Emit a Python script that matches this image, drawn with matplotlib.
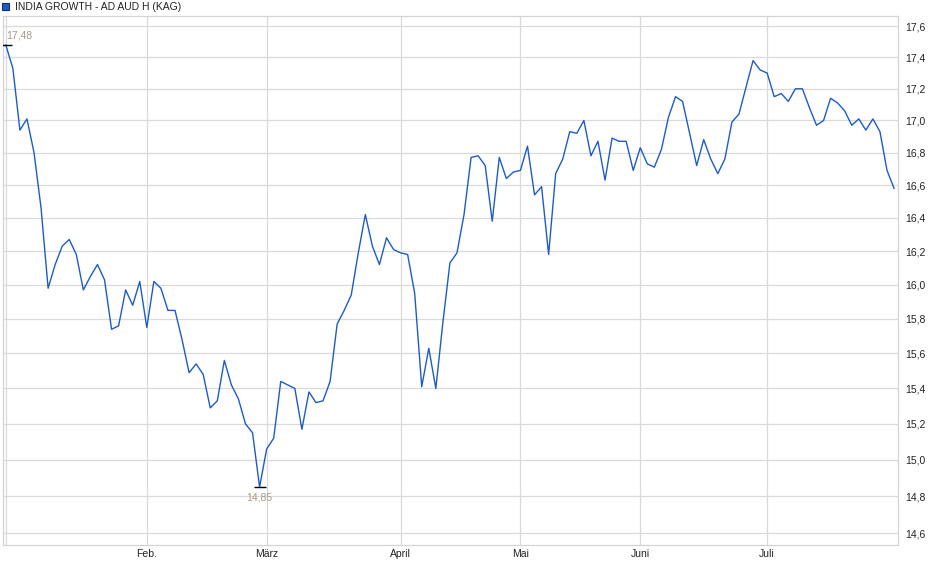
import numpy as np
import matplotlib
matplotlib.use('Agg')
import matplotlib.pyplot as plt
from matplotlib.ticker import FixedLocator, FixedFormatter, NullLocator

plt.rcParams['font.family'] = ['Liberation Sans', 'DejaVu Sans']
plt.rcParams['font.size'] = 7.5

series_name = 'INDIA GROWTH - AD AUD H (KAG)'

# one value per trading point
prices = [
    17.48, 17.33, 16.94, 17.01, 16.80, 16.46, 15.98, 16.12, 16.23, 16.27,
    16.18, 15.97, 16.05, 16.12, 16.03, 15.74, 15.76, 15.97, 15.88, 16.02,
    15.75, 16.02, 15.98, 15.85, 15.85, 15.68, 15.49, 15.54, 15.48, 15.29,
    15.33, 15.56, 15.42, 15.34, 15.20, 15.15, 14.85, 15.06, 15.12, 15.44,
    15.42, 15.40, 15.17, 15.38, 15.32, 15.33, 15.44, 15.77, 15.85, 15.94,
    16.19, 16.42, 16.23, 16.12, 16.28, 16.21, 16.19, 16.18, 15.95, 15.41,
    15.63, 15.40, 15.78, 16.13, 16.19, 16.42, 16.77, 16.78, 16.72, 16.38,
    16.77, 16.64, 16.68, 16.69, 16.84, 16.54, 16.59, 16.18, 16.67, 16.76,
    16.93, 16.92, 17.00, 16.78, 16.87, 16.63, 16.89, 16.87, 16.87, 16.69,
    16.83, 16.73, 16.71, 16.82, 17.02, 17.15, 17.12, 16.92, 16.72, 16.88,
    16.76, 16.67, 16.76, 16.99, 17.04, 17.21, 17.38, 17.32, 17.30, 17.15,
    17.17, 17.12, 17.20, 17.20, 17.08, 16.97, 17.00, 17.14, 17.11, 17.06,
    16.97, 17.01, 16.94, 17.01, 16.93, 16.69, 16.58,
]

month_idx = [0, 20, 37, 56, 73, 90, 108]
month_labels = ['', 'Feb.', 'März', 'April', 'Mai', 'Juni', 'Juli']

y_ticks = [14.6, 14.8, 15.0, 15.2, 15.4, 15.6, 15.8, 16.0, 16.2, 16.4,
           16.6, 16.8, 17.0, 17.2, 17.4, 17.6]

x = np.arange(len(prices))
vals = np.array(prices)

fig = plt.figure(figsize=(9.4, 5.79), dpi=100)
ax = fig.add_axes([2.5 / 940, 34 / 579, 895.5 / 940, 529 / 579])

ax.plot(x, vals, color='#1f5bc6', lw=1.0, zorder=3)

ax.set_yscale('log')
ax.set_ylim(14.536, 17.668)
ax.set_xlim(-0.47, 126.56)

ax.yaxis.set_major_locator(FixedLocator(y_ticks))
ax.yaxis.set_major_formatter(FixedFormatter([f'{v:.1f}'.replace('.', ',') for v in y_ticks]))
ax.yaxis.set_minor_locator(NullLocator())
ax.yaxis.tick_right()
ax.tick_params(axis='y', length=0, pad=5, labelcolor='#222222')

ax.xaxis.set_major_locator(FixedLocator(month_idx))
ax.xaxis.set_major_formatter(FixedFormatter(month_labels))
ax.xaxis.set_minor_locator(FixedLocator(month_idx[:1]))
ax.tick_params(axis='x', which='major', length=0, pad=3, labelcolor='#222222')
ax.tick_params(axis='x', which='minor', length=4, width=0.8, color='#d4d4d4')

ax.grid(True, color='#dadada', lw=0.9, zorder=1)
for spine in ax.spines.values():
    spine.set_color('#d4d4d4')
    spine.set_linewidth(0.9)

# high / low markers
i_hi = int(np.argmax(vals))
i_lo = int(np.argmin(vals))
ax.plot([x[i_hi], x[i_lo]], [vals[i_hi], vals[i_lo]], ls='none', marker='_',
        ms=8, mew=1.0, color='black', zorder=4)
ax.annotate(f'{vals[i_hi]:.2f}'.replace('.', ','), (x[i_hi], vals[i_hi]),
            xytext=(0, 3), textcoords='offset points', ha='left', va='bottom',
            color='#a8998a', fontsize=7.5)
ax.annotate(f'{vals[i_lo]:.2f}'.replace('.', ','), (x[i_lo], vals[i_lo]),
            xytext=(0, -4), textcoords='offset points', ha='center', va='top',
            color='#a8998a', fontsize=7.5)

# legend entry at top left
fig.patches.append(plt.Rectangle((2 / 940, 1 - 10 / 579), 7 / 940, 7 / 579,
                                 transform=fig.transFigure, facecolor='#1f5bc6',
                                 edgecolor='#0d2f6e', lw=0.8))
fig.text(15 / 940, 1 - 6.5 / 579, series_name, ha='left', va='center',
         fontsize=7.5, color='#222222')

fig.savefig('out.png', dpi=100)
